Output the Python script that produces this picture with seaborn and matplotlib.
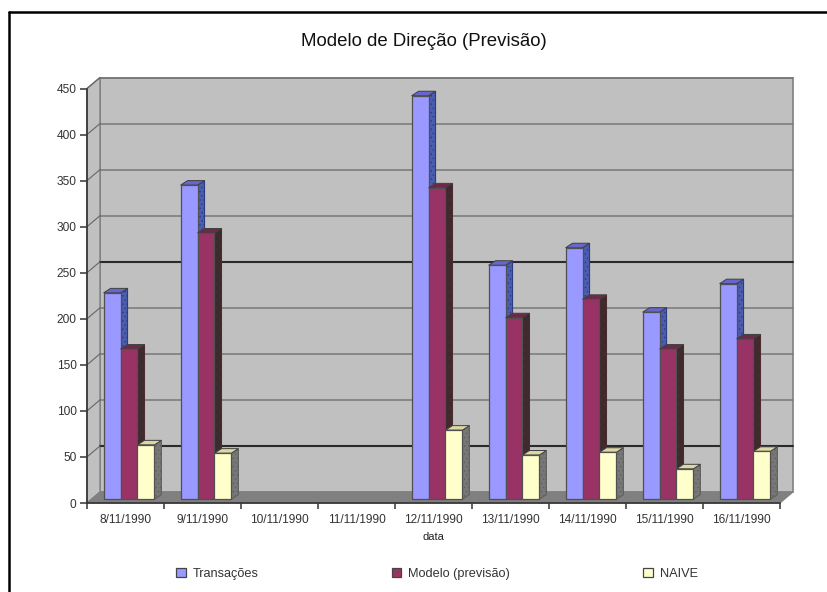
# -*- coding: utf-8 -*-
import pandas as pd
import matplotlib.pyplot as plt
import seaborn as sns
from matplotlib.lines import Line2D
from matplotlib.patches import Polygon, Rectangle

# --------------------------- DATA ---------------------------
datas = ['8/11/1990', '9/11/1990', '10/11/1990', '11/11/1990', '12/11/1990',
         '13/11/1990', '14/11/1990', '15/11/1990', '16/11/1990']
transacoes = [224, 341, None, None, 438, 254, 273, 203, 234]
modelo = [163, 289, None, None, 338, 197, 217, 163, 174]
naive = [59, 50, None, None, 75, 48, 51, 33, 52]
y_ticks = [0, 50, 100, 150, 200, 250, 300, 350, 400, 450]
dark_grid = [50, 250]

series = {'Transações': transacoes, 'Modelo (previsão)': modelo, 'NAIVE': naive}
cores = {'Transações': '#9999ff', 'Modelo (previsão)': '#993366', 'NAIVE': '#ffffcc'}
topo = {'Transações': '#6666cc', 'Modelo (previsão)': '#70284a', 'NAIVE': '#dcd8a4'}
lado = {'Transações': '#4a5db0', 'Modelo (previsão)': '#3c2a2c', 'NAIVE': '#777777'}
hachura = {'Transações': '#2c3a80', 'Modelo (previsão)': '#4a2c30', 'NAIVE': '#606060'}

df = pd.DataFrame({'data': datas, **series}).melt(id_vars='data', var_name='serie', value_name='valor')
df['valor'] = pd.to_numeric(df['valor'])

# --------------------------- SETTINGS ---------------------------
sns.set_style('white')
plt.rcParams['font.family'] = ['Liberation Sans', 'DejaVu Sans']
plt.rcParams['hatch.linewidth'] = 0.5

W, H = 828, 592
fig = plt.figure(figsize=(W / 100, H / 100), dpi=100)
ax = fig.add_axes([87 / W, 1 - 503 / H, 693 / W, 414.5 / H])
ax.set_xlim(-0.5, 8.5)
ax.set_ylim(0, 450)

# one pixel in data units
PX = 9 / 693
PY = 450 / 414.5
DX, DY = 13 * PX, 11 * PY      # wall depth
SX, SY = 3.5 * PX, 3.8 * PY    # where the bars stand on the floor
BX, BY = 7 * PX, 4.5 * PY      # bar depth

sns.barplot(data=df, x='data', y='valor', hue='serie', order=datas,
            hue_order=list(series), palette=cores, width=0.66, gap=0,
            saturation=1, dodge=True, ax=ax, zorder=3)
handles, labels = ax.get_legend_handles_labels()

# --------------------------- WALLS ---------------------------
ax.add_patch(Rectangle((-0.5 + DX, DY), 9, 450, fc='#c0c0c0', ec='#808080', lw=1.2, zorder=1, clip_on=False))
ax.add_patch(Polygon([(-0.5, 0), (-0.5 + DX, DY), (-0.5 + DX, 450 + DY), (-0.5, 450)],
                     fc='#c0c0c0', ec='#808080', lw=1, zorder=1, clip_on=False))
ax.add_patch(Polygon([(-0.5, 0), (-0.5 + DX, DY), (8.5 + DX, DY), (8.5, 0)],
                     fc='#808080', ec='#808080', lw=0.8, zorder=1.2, clip_on=False))

for v in y_ticks[1:]:
    escura = v in dark_grid
    ax.plot([-0.5 + DX, 8.5 + DX], [v + DY, v + DY], color='#2a2a2a' if escura else '#777777',
            lw=1.5 if escura else 1.1, zorder=1.5, clip_on=False)
    ax.plot([-0.5, -0.5 + DX], [v, v + DY], color='#666666', lw=0.8, zorder=1.5, clip_on=False)

# --------------------------- 3D BARS ---------------------------
for n, (nome, cont) in enumerate(zip(series, ax.containers)):
    for bar in cont:
        h = bar.get_height()
        if pd.isna(h):
            continue
        x0 = bar.get_x() + SX
        x1 = x0 + bar.get_width()
        bar.set_x(x0)
        bar.set_y(SY)
        bar.set_edgecolor('#505050')
        bar.set_linewidth(0.9)
        bar.set_zorder(3 + n)
        topo_y = h + SY
        ax.add_patch(Polygon([(x1, SY), (x1 + BX, SY + BY), (x1 + BX, topo_y + BY), (x1, topo_y)],
                             fc=lado[nome], ec=hachura[nome], hatch='....' if n != 1 else 'xxxx',
                             lw=0.8, zorder=2.9 + n, clip_on=False))
        ax.add_patch(Polygon([(x0, topo_y), (x0 + BX, topo_y + BY), (x1 + BX, topo_y + BY), (x1, topo_y)],
                             fc=topo[nome], ec='#404040', lw=0.7, zorder=2.9 + n, clip_on=False))

# --------------------------- AXES ---------------------------
sns.despine(ax=ax)
for s in ['left', 'bottom']:
    ax.spines[s].set_color('#333333')
    ax.spines[s].set_linewidth(1.2)
ax.set_yticks(y_ticks)
ax.set_xticks([i - 0.5 for i in range(10)])
ax.set_xticklabels([])
ax.set_xticks(range(9), labels=datas, minor=True)
ax.tick_params(axis='y', which='major', left=True, length=5, width=1.1, color='#333333',
               labelsize=8.6, labelcolor='#333333', pad=2.5)
ax.tick_params(axis='x', which='major', bottom=True, length=4, width=1.1, color='#333333')
ax.tick_params(axis='x', which='minor', bottom=False, length=0, labelsize=8.6, labelcolor='#333333', pad=8)
ax.set_xlabel('data', fontsize=8, color='#222222', labelpad=4)
ax.set_ylabel('')

fig.text(424 / W, 1 - 42 / H, 'Modelo de Direção (Previsão)', fontsize=13.4, color='#111111', ha='center', va='center')

leg = ax.legend(handles, labels, loc='center', bbox_to_anchor=(437 / W, 1 - 574 / H),
                bbox_transform=fig.transFigure, ncol=3, frameon=False, fontsize=9.2,
                handlelength=0.75, handleheight=0.75, handletextpad=0.55, columnspacing=10.4,
                labelcolor='#333333')
for p in leg.get_patches():
    p.set_edgecolor('#444444')
    p.set_linewidth(0.9)

# page frame, open to the right and at the bottom
fig.add_artist(Line2D([9 / W, 9 / W], [0, 1 - 12 / H], color='black', lw=1.8))
fig.add_artist(Line2D([9 / W, 1], [1 - 12 / H, 1 - 12 / H], color='black', lw=1.8))

fig.savefig('out.png', dpi=100)
